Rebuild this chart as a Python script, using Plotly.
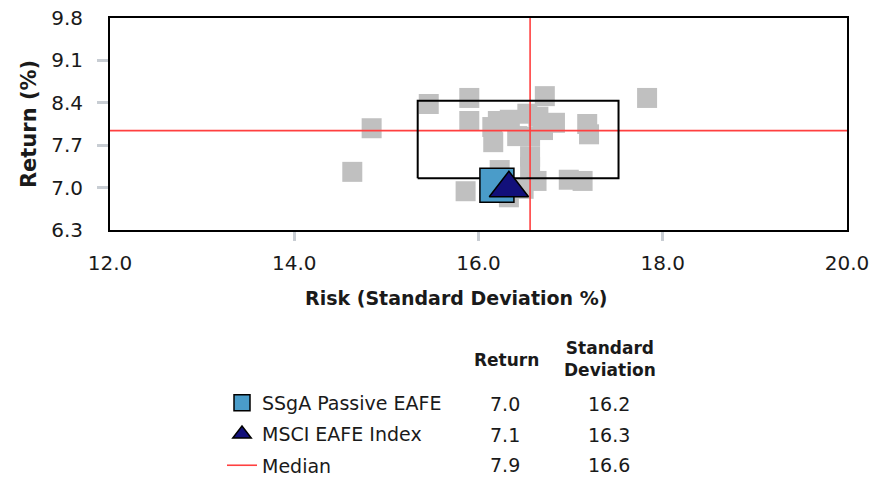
import plotly.graph_objects as go

# ---------------- data ----------------
peer_risk = [14.84, 14.63, 15.46, 15.90, 15.90, 15.86, 16.72, 17.83, 17.18, 17.20,
             16.98, 17.13, 16.15, 16.16, 16.21, 16.34, 16.53, 16.65, 16.83, 16.70,
             16.42, 16.56, 16.56, 16.56, 16.63, 16.23, 16.33, 16.49]
peer_return = [7.98, 7.26, 8.38, 8.48, 8.10, 6.94, 8.51, 8.48, 8.05, 7.88,
               7.13, 7.11, 8.00, 7.75, 8.10, 8.12, 8.22, 8.17, 8.07, 7.95,
               7.85, 7.84, 7.51, 7.34, 7.11, 7.29, 6.84, 6.98]

ssga_risk, ssga_return = [16.20], [7.04]
msci_risk, msci_return = [16.33], [6.99]
median_risk, median_return = 16.56, 7.94
box_risk = [15.34, 17.52]
box_return = [7.155, 8.435]

x_ticks = [12.0, 14.0, 16.0, 18.0, 20.0]
y_ticks = [6.3, 7.0, 7.7, 8.4, 9.1, 9.8]

table_names = ["SSgA Passive EAFE", "MSCI EAFE Index", "Median"]
table_return = ["7.0", "7.1", "7.9"]
table_stdev = ["16.2", "16.3", "16.6"]

FONT = "DejaVu Sans"
TXT = "#1a1a1a"
RED = "#ff4040"
TICKGRAY = "#c8cdd3"

fig = go.Figure()

fig.add_trace(go.Scatter(
    x=peer_risk, y=peer_return, mode="markers",
    marker=dict(symbol="square", size=20, color="#c0c0c0", line=dict(width=0)),
    showlegend=False, hoverinfo="skip"))

fig.add_trace(go.Scatter(
    x=[median_risk, median_risk, None, x_ticks[0], x_ticks[-1]],
    y=[y_ticks[0], y_ticks[-1], None, median_return, median_return],
    mode="lines", line=dict(color=RED, width=1.6),
    name="Median", legendrank=3, legendgroup="c"))

fig.add_trace(go.Scatter(
    x=[box_risk[0], box_risk[1], box_risk[1], box_risk[0], box_risk[0]],
    y=[box_return[0], box_return[0], box_return[1], box_return[1], box_return[0]],
    mode="lines", line=dict(color="black", width=2),
    showlegend=False, hoverinfo="skip"))

fig.add_trace(go.Scatter(
    x=ssga_risk, y=ssga_return, mode="markers",
    marker=dict(symbol="square", size=34, color="#4a9cc9",
                line=dict(color="black", width=1.5)),
    name="SSgA Passive EAFE", legendrank=1, legendgroup="a"))

fig.add_trace(go.Scatter(
    x=msci_risk, y=msci_return, mode="markers",
    marker=dict(symbol="triangle-up", size=34, color="#12107a",
                line=dict(color="black", width=1.5)),
    name="MSCI EAFE Index", legendrank=2, legendgroup="b"))

# page has an 8px body margin, so the figure is drawn 8px in from the corner
OFF = 8
W, H = 888 - OFF, 477 - OFF
L, T = 110 - OFF, 18 - OFF
R = 888 - 847
B = H - T - 212
ph = H - T - B
pw = W - L - R


def px_x(p):  # page pixel -> paper x
    return (p - OFF - L) / pw


def px_y(p):  # page pixel -> paper y
    return (H - B - (p - OFF)) / ph


def ann(text, xp, yp, size):
    return dict(text=text, x=px_x(xp), y=px_y(yp), xref="paper", yref="paper",
                xanchor="center", yanchor="middle", showarrow=False,
                font=dict(family=FONT, size=size, color=TXT))


annotations = [
    ann("<b>Return</b>", 506, 360, 17),
    ann("<b>Standard<br>Deviation</b>", 610, 359, 17),
    ann("<b>Risk (Standard Deviation %)</b>", 456, 298, 19),
]
row_px = [404, 435, 465]
for i, nm in enumerate(table_names):
    annotations.append(ann(table_return[i], 505, row_px[i], 19))
    annotations.append(ann(table_stdev[i], 609, row_px[i], 19))

fig.update_layout(
    width=W, height=H,
    margin=dict(l=L, r=R, t=T, b=B, autoexpand=False),
    paper_bgcolor="white", plot_bgcolor="white",
    font=dict(family=FONT, color=TXT),
    showlegend=True,
    legend=dict(x=px_x(222), y=px_y(384), xanchor="left", yanchor="top",
                font=dict(family=FONT, size=19, color=TXT),
                tracegroupgap=3.5, bgcolor="rgba(0,0,0,0)", itemclick=False),
    annotations=annotations,
    xaxis=dict(range=[x_ticks[0], x_ticks[-1]], tickvals=x_ticks,
               ticktext=[f"{v:.1f}" for v in x_ticks], ticks="",
               showgrid=False, zeroline=False, showline=True, mirror=True,
               linecolor="black", linewidth=2, ticklabelstandoff=14,
               ticklabeloverflow="allow",
               tickfont=dict(family=FONT, size=20, color=TXT),
               minor=dict(tickvals=x_ticks[1:-1], ticks="outside", ticklen=9,
                          tickwidth=3, tickcolor=TICKGRAY, showgrid=False)),
    yaxis=dict(range=[y_ticks[0], y_ticks[-1]], tickvals=y_ticks,
               ticktext=[f"{v:.1f}" for v in y_ticks], ticks="",
               showgrid=False, zeroline=False, showline=True, mirror=True,
               linecolor="black", linewidth=2, ticklabelstandoff=21,
               ticklabeloverflow="allow",
               tickfont=dict(family=FONT, size=20, color=TXT),
               title=dict(text="<b>Return (%)</b>", standoff=9,
                          font=dict(family=FONT, size=21, color=TXT)),
               minor=dict(tickvals=y_ticks[1:-1], ticks="outside", ticklen=11,
                          tickwidth=3, tickcolor=TICKGRAY, showgrid=False)),
)

fig.write_html("out.html")
